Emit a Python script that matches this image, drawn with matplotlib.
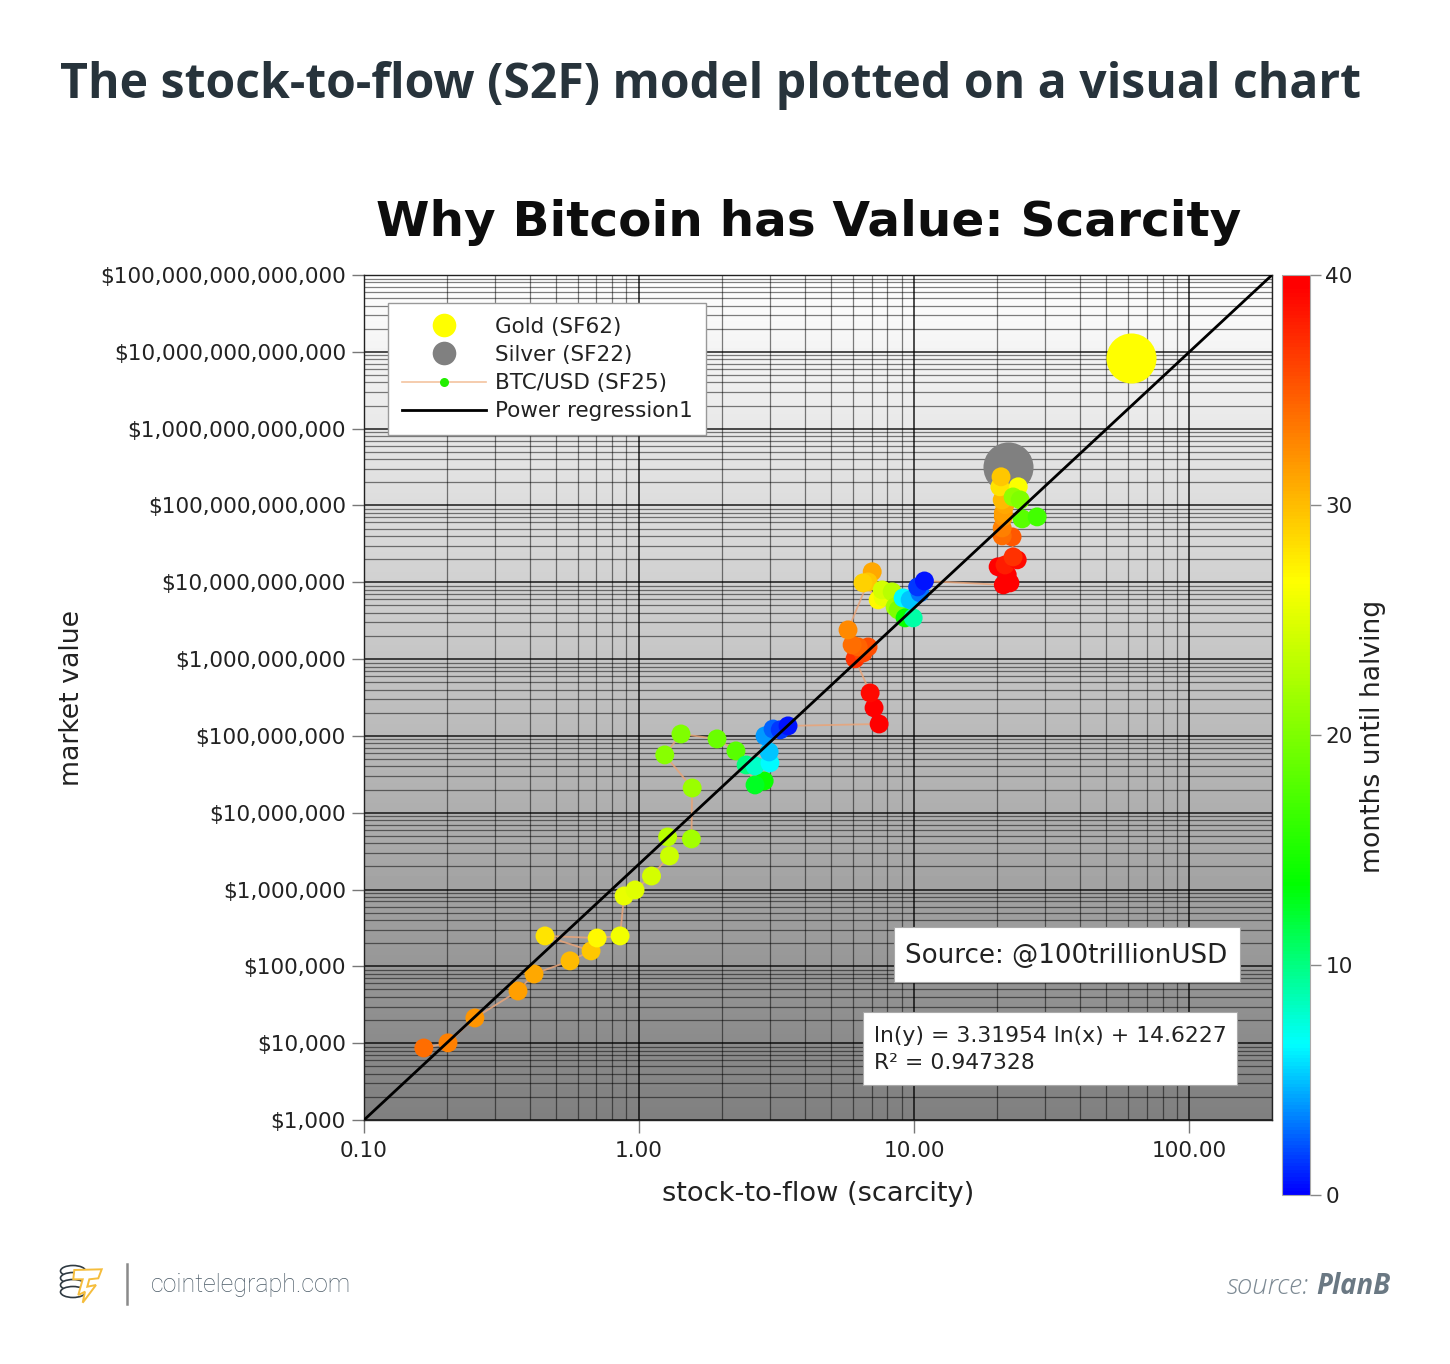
#!/usr/bin/env python3
# Stock-to-flow chart, values

import numpy as np
import matplotlib
matplotlib.use("Agg")
import matplotlib.pyplot as plt
from matplotlib.colors import LinearSegmentedColormap
from matplotlib.lines import Line2D
from matplotlib.patches import Ellipse, Polygon, Rectangle
from matplotlib.ticker import FuncFormatter, LogLocator, NullFormatter

s2f = [0.165, 0.202, 0.253, 0.363, 0.415, 0.561, 0.669, 0.455, 0.704, 0.853, 0.882, 0.967, 1.11, 1.29, 1.27, 1.55,
       1.56, 1.24, 1.42, 1.92, 2.25, 2.85, 2.64, 2.45, 2.64, 2.99, 2.97, 2.87, 3.07, 3.26, 3.48,
       7.46, 7.15, 6.92, 6.1, 6.52, 6.8, 6.26, 5.95, 5.75, 7.04, 6.8, 6.52, 7.4, 7.71, 7.65, 8.32, 8.53, 8.75, 9.27,
       9.92, 9.12, 9.67, 10.5, 10.3, 10.9,
       21.1, 22.3, 21.8, 20.2, 21.4, 23.7, 22.9, 22.7, 20.9, 20.9, 21.1, 21.1, 21.4, 20.9, 20.5, 20.7, 23.9, 22.9,
       24.3, 24.7, 28]
market_value = [8.66e03, 1.01e04, 2.13e04, 4.78e04, 7.96e04, 1.18e05, 1.59e05, 2.49e05, 2.34e05, 2.49e05, 8.25e05,
                9.88e05, 1.5e06, 2.74e06, 4.84e06, 4.56e06, 2.1e07, 5.66e07, 1.06e08, 9.14e07, 6.38e07, 2.59e07,
                2.3e07, 4.19e07, 4.07e07, 4.45e07, 6.19e07, 1e08, 1.23e08, 1.2e08, 1.35e08,
                1.43e08, 2.32e08, 3.63e08, 1.01e09, 1.2e09, 1.44e09, 1.44e09, 1.53e09, 2.4e09, 1.37e10, 1.01e10,
                9.82e09, 5.9e09, 6.45e09, 7.96e09, 7.5e09, 4.78e09, 4.37e09, 3.44e09, 3.44e09, 6.26e09, 5.9e09,
                7.28e09, 8.71e09, 1.04e10,
                9.25e09, 9.82e09, 1.25e10, 1.59e10, 1.68e10, 1.96e10, 2.14e10, 3.9e10, 4.02e10, 5.1e10, 7.1e10,
                8e10, 1.02e11, 1.18e11, 1.75e11, 2.36e11, 1.75e11, 1.29e11, 1.18e11, 6.69e10, 7.1e10]
months = [34, 33, 32, 31.5, 31, 30, 29.5, 28, 27, 26, 25.5, 25, 24.5, 24, 23, 22, 21.5, 20.5, 20, 19, 18,
          14, 12.5, 10, 8, 6.5, 5, 4, 2.5, 1.5, 0.5,
          40, 39.5, 39, 37, 36, 35.5, 34.5, 34, 32.5, 31, 29.5, 29, 27, 25.5, 24.5, 23, 22, 20, 14, 9, 6.5, 5, 3, 1.5,
          0.5,
          40, 40, 39.5, 40, 38, 39, 37, 35, 34, 33, 32, 31.5, 31, 30, 28, 29.5, 26.5, 21, 20, 18, 17]

gold_x, gold_y = [61.5], [8.35e12]
silver_x, silver_y = [22], [3.18e11]
reg_x, reg_y = [0.1, 200], [1e3, 1e14]

cbar_ticks = [0, 10, 20, 30, 40]
x_ticks = [0.1, 1, 10, 100]

W, H = 1450, 1364
TXT = "#222222"

halving = LinearSegmentedColormap.from_list("halving", [
    (0.0, "#0000ff"), (6.5 / 40, "#00ffff"), (13.5 / 40, "#00ff00"),
    (26.7 / 40, "#ffff00"), (39.5 / 40, "#ff0000"), (1.0, "#ff0000")])


def box(x0, y0, x1, y1):
    # pixel box of the reference -> figure fractions
    return [x0 / W, 1 - y1 / H, (x1 - x0) / W, (y1 - y0) / H]


fig = plt.figure(figsize=(W / 100, H / 100), dpi=100, facecolor="white")

# grey fade behind the plot
bg = fig.add_axes(box(364, 275, 1272, 1120), zorder=0)
bg.imshow(np.linspace(1.0, 0.5, 256).reshape(-1, 1), cmap="gray", vmin=0, vmax=1, aspect="auto")
bg.set_xticks([])
bg.set_yticks([])
bg.axis("off")

ax = fig.add_axes(box(364, 275, 1272, 1120), zorder=1)
ax.patch.set_alpha(0)
ax.set_xscale("log")
ax.set_yscale("log")

ax.plot(s2f, market_value, color="#e9a478", lw=1.3, alpha=0.85, zorder=3)
ax.scatter(gold_x, gold_y, s=1300, color="#ffff00", linewidths=0, zorder=3)
ax.scatter(silver_x, silver_y, s=1300, color="#808080", linewidths=0, zorder=3)
sc = ax.scatter(s2f, market_value, c=months, cmap=halving, vmin=0, vmax=40, s=185, linewidths=0, zorder=4)
ax.plot(reg_x, reg_y, color="black", lw=2, zorder=5)

ax.set_xlim(0.1, 200)
ax.set_ylim(1e3, 1e14)
ax.set_xticks(x_ticks)
ax.xaxis.set_major_formatter(FuncFormatter(lambda v, _: f"{v:.2f}"))
ax.xaxis.set_minor_locator(LogLocator(base=10, subs=range(2, 10), numticks=20))
ax.xaxis.set_minor_formatter(NullFormatter())
ax.yaxis.set_major_locator(LogLocator(base=10, numticks=20))
ax.yaxis.set_major_formatter(FuncFormatter(lambda v, _: f"${v:,.0f}"))
ax.yaxis.set_minor_locator(LogLocator(base=10, subs=range(2, 10), numticks=20))
ax.yaxis.set_minor_formatter(NullFormatter())
ax.grid(True, which="major", color="black", alpha=0.75, lw=1.3, zorder=1)
ax.grid(True, which="minor", color="black", alpha=0.5, lw=0.9, zorder=1)
ax.set_axisbelow(True)
ax.tick_params(which="major", length=9, width=1, color="#777777", labelsize=15.6, labelcolor=TXT, pad=4)
ax.tick_params(axis="x", which="major", pad=6)
ax.tick_params(which="minor", length=0)
for s in ax.spines.values():
    s.set_color("#222222")
    s.set_linewidth(1)

ax.set_xlabel("stock-to-flow (scarcity)", fontsize=19.6, color=TXT, va="center")
ax.xaxis.set_label_coords(0.5, -(1194 - 1120) / 845)
ax.set_ylabel("market value", fontsize=19.3, color=TXT, va="center")
ax.yaxis.set_label_coords((72 - 364) / 908, 0.5)

handles = [
    Line2D([], [], ls="", marker="o", ms=17, mfc="#ffff00", mec="none"),
    Line2D([], [], ls="", marker="o", ms=17, mfc="#808080", mec="none"),
    Line2D([], [], color="#f3c3a0", lw=1.2, marker="o", ms=6.5, mfc="#22ee00", mec="none"),
    Line2D([], [], color="black", lw=2),
]
leg = ax.legend(handles, ["Gold (SF62)", "Silver (SF22)", "BTC/USD (SF25)", "Power regression1"],
                loc="upper left", bbox_to_anchor=(388 / W, 1 - 303 / H), bbox_transform=fig.transFigure,
                borderaxespad=0, fontsize=15.5, numpoints=1, handlelength=3.9, handletextpad=0.42,
                labelspacing=0.38, borderpad=0.64, fancybox=False, framealpha=1, edgecolor="#999999",
                labelcolor=TXT)
leg.set_zorder(6)

cax = fig.add_axes(box(1282, 275, 1310, 1195), zorder=1)
cb = fig.colorbar(sc, cax=cax, ticks=cbar_ticks)
cb.ax.tick_params(length=8, width=1, color="#888888", labelsize=15.6, labelcolor=TXT, pad=3)
cb.outline.set_edgecolor("#aaaaaa")
cb.outline.set_linewidth(0.8)

# overlay in reference pixels for the page furniture and text boxes
ov = fig.add_axes([0, 0, 1, 1], zorder=2)
ov.set_xlim(0, W)
ov.set_ylim(H, 0)
ov.set_xticks([])
ov.set_yticks([])
ov.axis("off")

ov.text(60, 85, "The stock-to-flow (S2F) model plotted on a visual chart", fontsize=34.7, fontweight="bold",
        family="Open Sans", color="#27333b", va="center", ha="left")
ov.text(809, 222, "Why Bitcoin has Value: Scarcity", fontsize=34.88, fontweight="bold", color="#0d0d0d",
        va="center", ha="center")
ov.text(1373, 736, "months until halving", fontsize=19.2, color=TXT, rotation=90, va="center", ha="center")

ov.add_patch(Rectangle((894, 927), 346, 55, fc="white", ec="#aaaaaa", lw=0.8))
ov.text(905, 956, "Source: @100trillionUSD", fontsize=18.85, color=TXT, va="center", ha="left")
ov.add_patch(Rectangle((863, 1012), 374, 73, fc="white", ec="#aaaaaa", lw=0.8))
ov.text(874, 1036, "ln(y) = 3.31954 ln(x) + 14.6227", fontsize=15.75, color=TXT, va="center", ha="left")
ov.text(874, 1063, "R² = 0.947328", fontsize=15.75, color=TXT, va="center", ha="left")

# footer
for yc in [1271, 1278, 1285, 1292]:
    ov.add_patch(Ellipse((73, yc), 25, 11, fc="white", ec="#2f3a42", lw=1.2))
ov.add_patch(Polygon([(74.3, 1270), (101.7, 1269.3), (98.3, 1278.3), (89.3, 1279.3), (87.3, 1286.7), (96, 1285),
                      (82.7, 1302.7), (85, 1291.7), (78.3, 1295), (82.7, 1279.3), (73.3, 1279.3)],
                     closed=True, fc="white", ec="#f5bd3c", lw=1.4))
ov.plot([127, 127], [1264, 1304], color="#8a8a8a", lw=1.8)
ov.text(151, 1285, "cointelegraph.com", fontsize=18, family="Roboto", fontweight="light", color="#4a5a66",
        va="center", ha="left")
ov.text(1309, 1286, "source:", fontsize=19.9, family="Open Sans", style="italic", fontweight="light",
        color="#7d8a94", va="center", ha="right")
ov.text(1390, 1286, "PlanB", fontsize=19.8, family="Open Sans", style="italic", fontweight="bold", color="#6a7883",
        va="center", ha="right")

fig.savefig("out.png", dpi=100)
